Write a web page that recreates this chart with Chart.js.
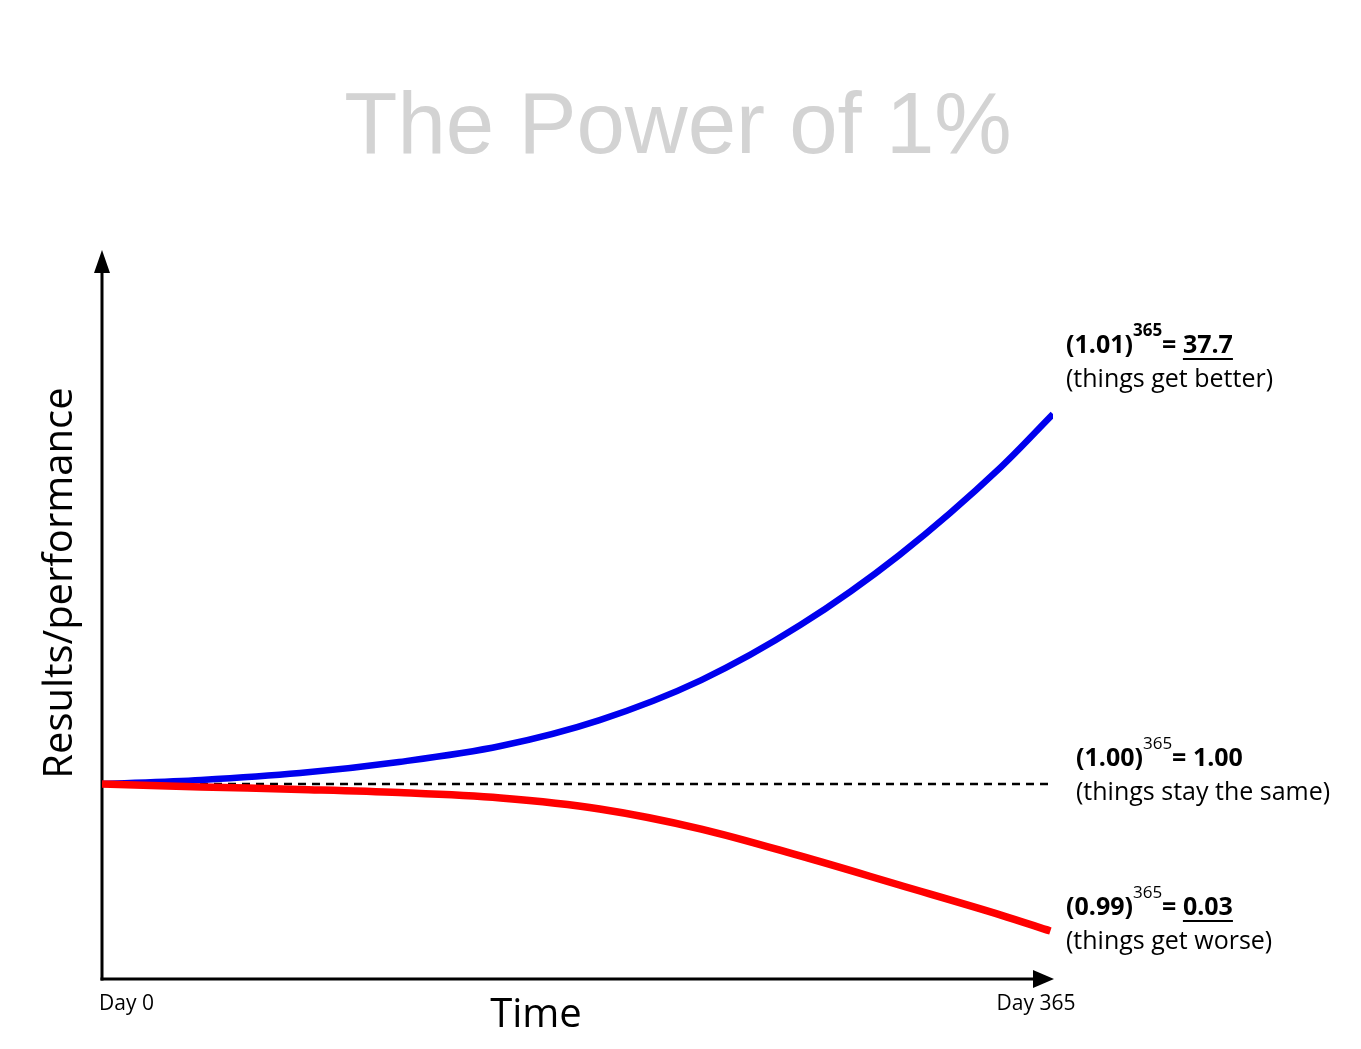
<!DOCTYPE html>
<html>
<head>
<meta charset="utf-8">
<title>The Power of 1%</title>
<script src="https://cdn.jsdelivr.net/npm/chart.js@4.4.1/dist/chart.umd.min.js"></script>
<style>
  html, body { margin: 0; padding: 0; background: #fff; }
  #wrap { width: 1361px; height: 1049px; }
</style>
</head>
<body>
<div id="wrap"><canvas id="chart" width="1361" height="1049"></canvas></div>
<script>
/* ── DATA ─────────────────────────────────────────────
   Values.
   y is a relative "performance" index, 1.0 = no change.
──────────────────────────────────────────────────────── */
const betterDays = [0, 38, 76, 114, 153, 191, 230, 268, 306, 345, 365];
const betterVals = [1.000, 1.021, 1.056, 1.113, 1.195, 1.328, 1.533, 1.815, 2.174, 2.625, 2.897];

const worseDays = [0, 38, 76, 114, 153, 191, 230, 268, 306, 345, 364];
const worseVals = [1.000, 0.985, 0.972, 0.956, 0.928, 0.872, 0.769, 0.631, 0.482, 0.328, 0.246];

const sameDays = [0, 365];
const sameVals = [1.00, 1.00];

const xTickLabels = ['Day 0', 'Day 365'];

const toPoints = (xs, ys) => xs.map((x, i) => ({ x, y: ys[i] }));

/* ── ANNOTATIONS / AXES PLUGIN ─────────────────────── */
const FONT = '"Open Sans", "DejaVu Sans", sans-serif';

function richLine(ctx, x, y, parts) {
    // parts: [{t, size, bold, dy, underline}]
    let cx = x;
    parts.forEach(p => {
        ctx.font = `${p.bold ? 'bold ' : ''}${p.size}px ${FONT}`;
        const w = ctx.measureText(p.t).width;
        ctx.fillText(p.t, cx, y + (p.dy || 0));
        if (p.underline) {
            ctx.fillRect(cx, y + 5, w, 2);
        }
        cx += w;
    });
}

const decor = {
    id: 'decor',
    beforeDatasetsDraw(chart) {
        const { ctx, chartArea: a } = chart;
        ctx.save();
        ctx.fillStyle = '#000';
        ctx.strokeStyle = '#000';
        ctx.lineWidth = 3;
        // y axis
        ctx.beginPath();
        ctx.moveTo(a.left, a.bottom + 1.5);
        ctx.lineTo(a.left, a.top + 16);
        ctx.stroke();
        ctx.beginPath();
        ctx.moveTo(a.left, a.top - 5);
        ctx.lineTo(a.left - 8, a.top + 18);
        ctx.lineTo(a.left + 8, a.top + 18);
        ctx.closePath();
        ctx.fill();
        // x axis
        ctx.beginPath();
        ctx.moveTo(a.left - 1.5, a.bottom);
        ctx.lineTo(a.right - 16, a.bottom);
        ctx.stroke();
        ctx.beginPath();
        ctx.moveTo(a.right + 1, a.bottom);
        ctx.lineTo(a.right - 20, a.bottom - 9);
        ctx.lineTo(a.right - 20, a.bottom + 9);
        ctx.closePath();
        ctx.fill();
        ctx.restore();
    },
    afterDraw(chart) {
        const { ctx, chartArea: a, scales } = chart;
        ctx.save();

        // title
        ctx.fillStyle = '#d3d3d3';
        ctx.font = '87px "Liberation Sans", Arial, sans-serif';
        ctx.textAlign = 'center';
        ctx.textBaseline = 'alphabetic';
        ctx.fillText('The Power of 1%', 678, 153);

        ctx.fillStyle = '#000';

        // x tick labels
        ctx.font = `21px ${FONT}`;
        ctx.textAlign = 'left';
        ctx.fillText(xTickLabels[0], a.left - 3, 1010);
        ctx.textAlign = 'center';
        ctx.fillText(xTickLabels[1], scales.x.getPixelForValue(365) - 17, 1010);

        // axis titles
        ctx.font = `40px ${FONT}`;
        ctx.fillText('Time', 536, 1027);

        ctx.save();
        ctx.translate(72, 583);
        ctx.rotate(-Math.PI / 2);
        ctx.font = `40px ${FONT}`;
        ctx.fillText('Results/performance', 0, 0);
        ctx.restore();

        // end-of-line annotations
        ctx.textAlign = 'left';
        richLine(ctx, 1066, 353, [
            { t: '(1.01)', size: 25, bold: true },
            { t: '365', size: 17, bold: true, dy: -17 },
            { t: '= ', size: 25, bold: true },
            { t: '37.7', size: 25, bold: true, underline: true }
        ]);
        richLine(ctx, 1066, 387, [{ t: '(things get better)', size: 25 }]);

        richLine(ctx, 1076, 766, [
            { t: '(1.00)', size: 25, bold: true },
            { t: '365', size: 17, dy: -17 },
            { t: '= 1.00', size: 25, bold: true }
        ]);
        richLine(ctx, 1076, 800, [{ t: '(things stay the same)', size: 25 }]);

        richLine(ctx, 1066, 915, [
            { t: '(0.99)', size: 25, bold: true },
            { t: '365', size: 17, dy: -17 },
            { t: '= ', size: 25, bold: true },
            { t: '0.03', size: 25, bold: true, underline: true }
        ]);
        richLine(ctx, 1066, 949, [{ t: '(things get worse)', size: 25 }]);

        ctx.restore();
    }
};

/* ── CHART ─────────────────────────────────────────── */
new Chart(document.getElementById('chart'), {
    type: 'line',
    data: {
        datasets: [
            {
                label: '0.99',
                data: toPoints(worseDays, worseVals),
                borderColor: '#ff0000',
                borderWidth: 7.5,
                cubicInterpolationMode: 'monotone',
                pointRadius: 0,
                borderCapStyle: 'butt',
            },
            {
                label: '1.01',
                data: toPoints(betterDays, betterVals),
                borderColor: '#0000ee',
                borderWidth: 6.5,
                cubicInterpolationMode: 'monotone',
                pointRadius: 0,
                borderCapStyle: 'butt',
            },
            {
                label: '1.00',
                data: toPoints(sameDays, sameVals),
                borderColor: '#000',
                borderWidth: 2.5,
                borderDash: [8, 6],
                pointRadius: 0,
            }
        ]
    },
    options: {
        responsive: false,
        devicePixelRatio: 1,
        animation: false,
        layout: { padding: { left: 102, right: 308, top: 255, bottom: 70 } },
        plugins: {
            legend: { display: false },
            tooltip: { enabled: false },
            title: { display: false },
        },
        scales: {
            x: { type: 'linear', min: 0, max: 365, display: false },
            y: { type: 'linear', min: 0, max: 3.713, display: false },
        }
    },
    plugins: [decor]
});
</script>
</body>
</html>
